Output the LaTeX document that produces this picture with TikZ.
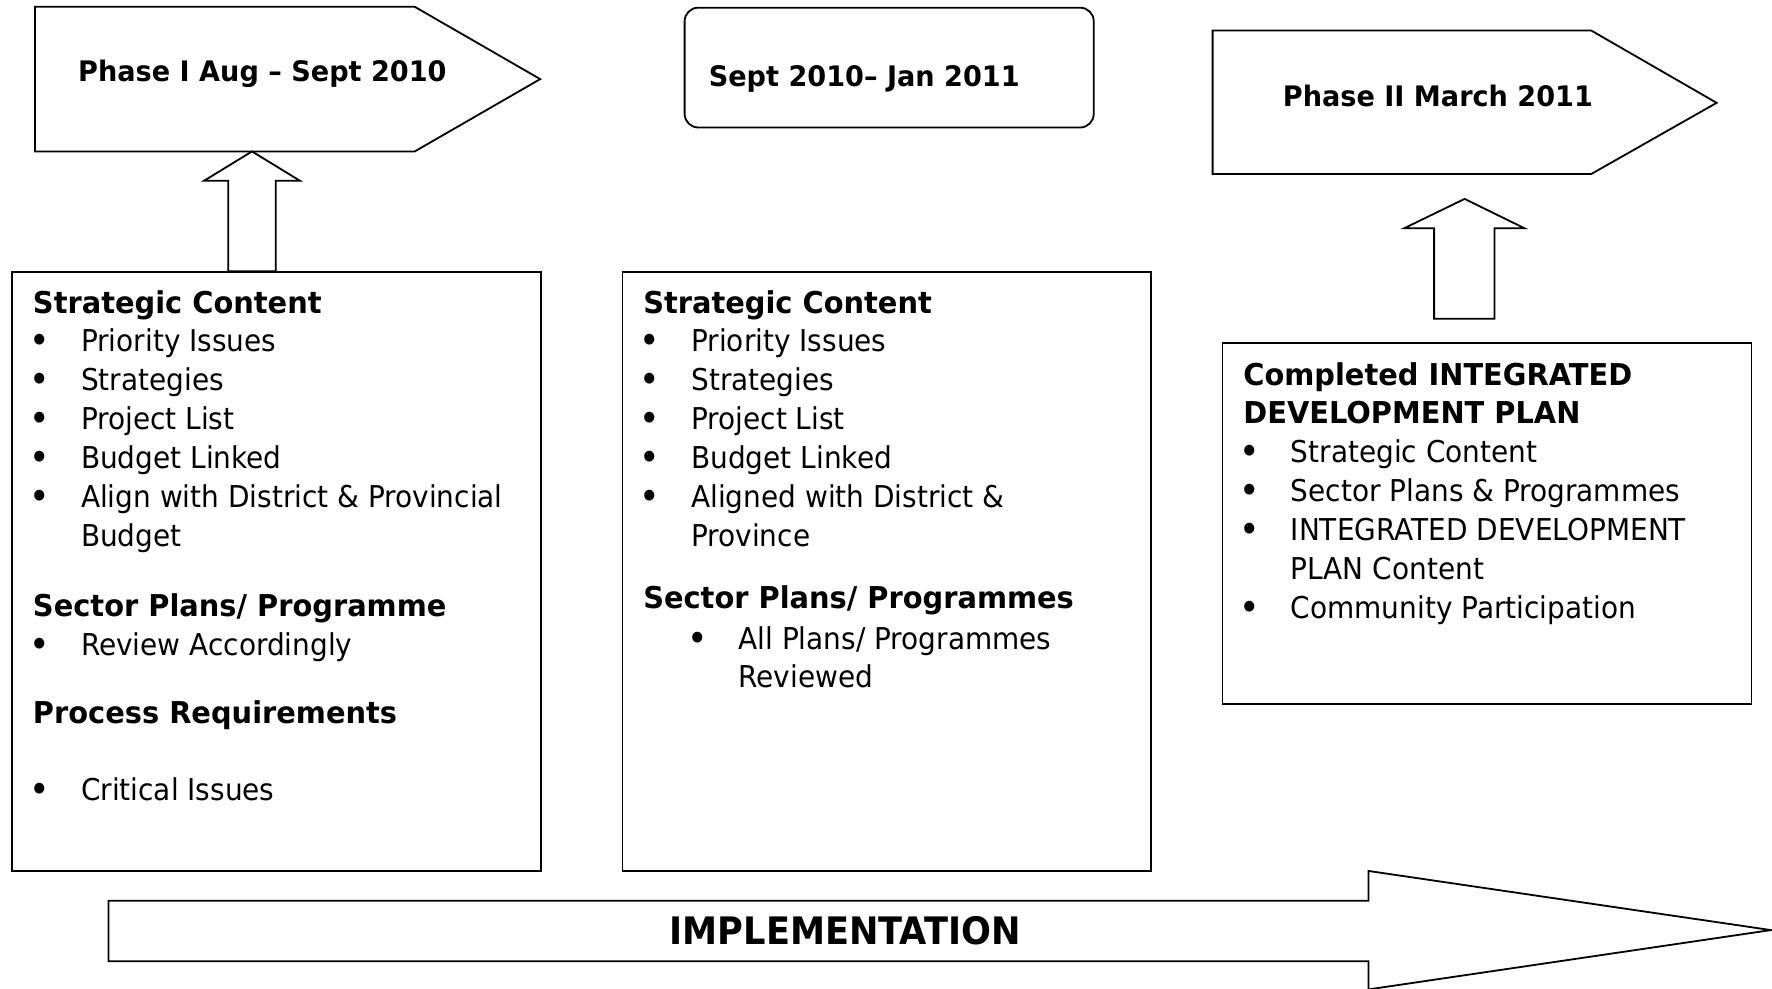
\documentclass[tikz,border=0pt]{standalone}
\usepackage{fontspec}
\setmainfont{DejaVu Sans}[FakeStretch=0.93, BoldFeatures={FakeStretch=0.96}]
\newfontfamily\implfont{DejaVu Sans}[FakeStretch=0.93]
\usetikzlibrary{calc}
\tikzset{
  frame/.style={draw=black, line width=1.6pt, fill=white, line join=miter},
  boxnode/.style={frame, anchor=north west, inner sep=0pt},
  txt/.style={anchor=west, inner sep=0pt, text height=19.4pt, text depth=0pt,
    font=\fontsize{26.6pt}{32pt}\selectfont},
  hd/.style={txt, font=\fontsize{26.6pt}{32pt}\selectfont\bfseries},
  bul/.style={anchor=center, inner sep=0pt, text height=18pt, text depth=0pt,
    font=\fontsize{33pt}{36pt}\selectfont},
  ph/.style={anchor=west, inner sep=0pt, text height=18.2pt, text depth=0pt,
    font=\fontsize{25pt}{30pt}\selectfont\bfseries},
  impl/.style={anchor=center, inner sep=0pt, text height=24.4pt, text depth=0pt,
    font=\implfont\fontsize{33.5pt}{40pt}\selectfont\bfseries},
}
\begin{document}
\begin{tikzpicture}[x=1pt,y=-1pt]
\useasboundingbox (0,0) rectangle (1568,875);

% ---------- Phase I pentagon arrow ----------
\coordinate (p1nw) at (31,6);
\coordinate (p1sw) at (31,134);
\coordinate (p1tip) at (478,70);
\draw[frame] (p1nw) -- (367,6) -- (p1tip) -- (367,134) -- (p1sw) -- cycle;
\node[ph] (p1) at (69,63.4) {Phase I Aug – Sept 2010};

% ---------- Sept 2010 - Jan 2011 rounded box ----------
\node[boxnode, rounded corners=12pt, minimum width=362pt, minimum height=106pt] (p2box) at (605,6) {};
\node[ph] (p2) at (627,67) {Sept 2010– Jan 2011};

% ---------- Phase II pentagon arrow ----------
\coordinate (p3nw) at (1073,27);
\coordinate (p3sw) at (1073,154);
\coordinate (p3tip) at (1519,91);
\draw[frame] (p3nw) -- (1408,27) -- (p3tip) -- (1408,154) -- (p3sw) -- cycle;
\node[ph] (p3) at (1135,85.5) {Phase II March 2011};

% ---------- content boxes ----------
\node[boxnode, minimum width=468pt, minimum height=530pt] (box1) at (10,240) {};
\node[boxnode, minimum width=468pt, minimum height=530pt] (box2) at (550,240) {};
\node[boxnode, minimum width=468pt, minimum height=319pt] (box3) at (1081,303) {};

% ---------- up arrows ----------
\coordinate (a1x) at (223,0);
\coordinate (a1b) at (box1.north -| a1x);
\coordinate (a1t) at (223,134);
\draw[frame] (a1b) ++(-21,0) -- ++(0,-80) -- ++(-21.5,0) -- (a1t)
  -- ++(42.5,26) -- ++(-21.5,0) -- ++(0,80) -- cycle;

\coordinate (a2b) at (1296,282);
\coordinate (a2t) at (1296,176);
\draw[frame] (a2b) ++(-27,0) -- ++(0,-80) -- ++(-26.5,0) -- (a2t)
  -- ++(53,26) -- ++(-26.5,0) -- ++(0,80) -- cycle;

% ---------- implementation arrow ----------
\coordinate (imtail) at (96,823.5);
\coordinate (imtip) at (1567,823);
\draw[frame] (96,797) -- (1211,797) -- (1211,770.7) -- (imtip) -- (1211,875.5)
  -- (1211,850.5) -- (96,850.5) -- cycle;
\node[impl] (impl) at (748,823.4) {IMPLEMENTATION};

% ---------- box 1 text ----------
\node[hd] (b1h1) at (29,267.4) {Strategic Content};
\node[bul] (b1d1) at (35,304) {•};
\node[txt] (b1t1) at (71.5,301.6) {Priority Issues};
\node[bul] (b1d2) at (35,338.5) {•};
\node[txt] (b1t2) at (71.5,336) {Strategies};
\node[bul] (b1d3) at (35,373) {•};
\node[txt] (b1t3) at (71.5,370.5) {Project List};
\node[bul] (b1d4) at (35,407.5) {•};
\node[txt] (b1t4) at (71.5,405) {Budget Linked};
\node[bul] (b1d5) at (35,442) {•};
\node[txt] (b1t5) at (71.5,439.5) {Align with District \& Provincial};
\node[txt] (b1t6) at (71.5,473.5) {Budget};
\node[hd] (b1h2) at (29,535.4) {Sector Plans/ Programme};
\node[bul] (b1d7) at (35,572.5) {•};
\node[txt] (b1t7) at (71.5,570) {Review Accordingly};
\node[hd] (b1h3) at (29,630.2) {Process Requirements};
\node[bul] (b1d8) at (35,701) {•};
\node[txt] (b1t8) at (71.5,698.5) {Critical Issues};

% ---------- box 2 text ----------
\node[hd] (b2h1) at (569,267.4) {Strategic Content};
\node[bul] (b2d1) at (575,304) {•};
\node[txt] (b2t1) at (611.5,301.6) {Priority Issues};
\node[bul] (b2d2) at (575,338.5) {•};
\node[txt] (b2t2) at (611.5,336) {Strategies};
\node[bul] (b2d3) at (575,373) {•};
\node[txt] (b2t3) at (611.5,370.5) {Project List};
\node[bul] (b2d4) at (575,407.5) {•};
\node[txt] (b2t4) at (611.5,405) {Budget Linked};
\node[bul] (b2d5) at (575,442) {•};
\node[txt] (b2t5) at (611.5,439.5) {Aligned with District \&};
\node[txt] (b2t6) at (611.5,473.5) {Province};
\node[hd] (b2h2) at (569,529) {Sector Plans/ Programmes};
\node[bul] (b2d7) at (617.5,567.5) {•};
\node[txt] (b2t7) at (653.3,565) {All Plans/ Programmes};
\node[txt] (b2t8) at (653.3,598.5) {Reviewed};

% ---------- box 3 text ----------
\node[hd] (b3h1) at (1100,331) {Completed INTEGRATED};
\node[hd] (b3h2) at (1100,365.3) {DEVELOPMENT PLAN};
\node[bul] (b3d1) at (1106,402.3) {•};
\node[txt] (b3t1) at (1142,399.8) {Strategic Content};
\node[bul] (b3d2) at (1106,436.8) {•};
\node[txt] (b3t2) at (1142,434.3) {Sector Plans \& Programmes};
\node[bul] (b3d3) at (1106,471.3) {•};
\node[txt] (b3t3) at (1142,468.8) {INTEGRATED DEVELOPMENT};
\node[txt] (b3t4) at (1142,503.3) {PLAN Content};
\node[bul] (b3d5) at (1106,539.8) {•};
\node[txt] (b3t5) at (1142,537.3) {Community Participation};
\end{tikzpicture}
\end{document}
